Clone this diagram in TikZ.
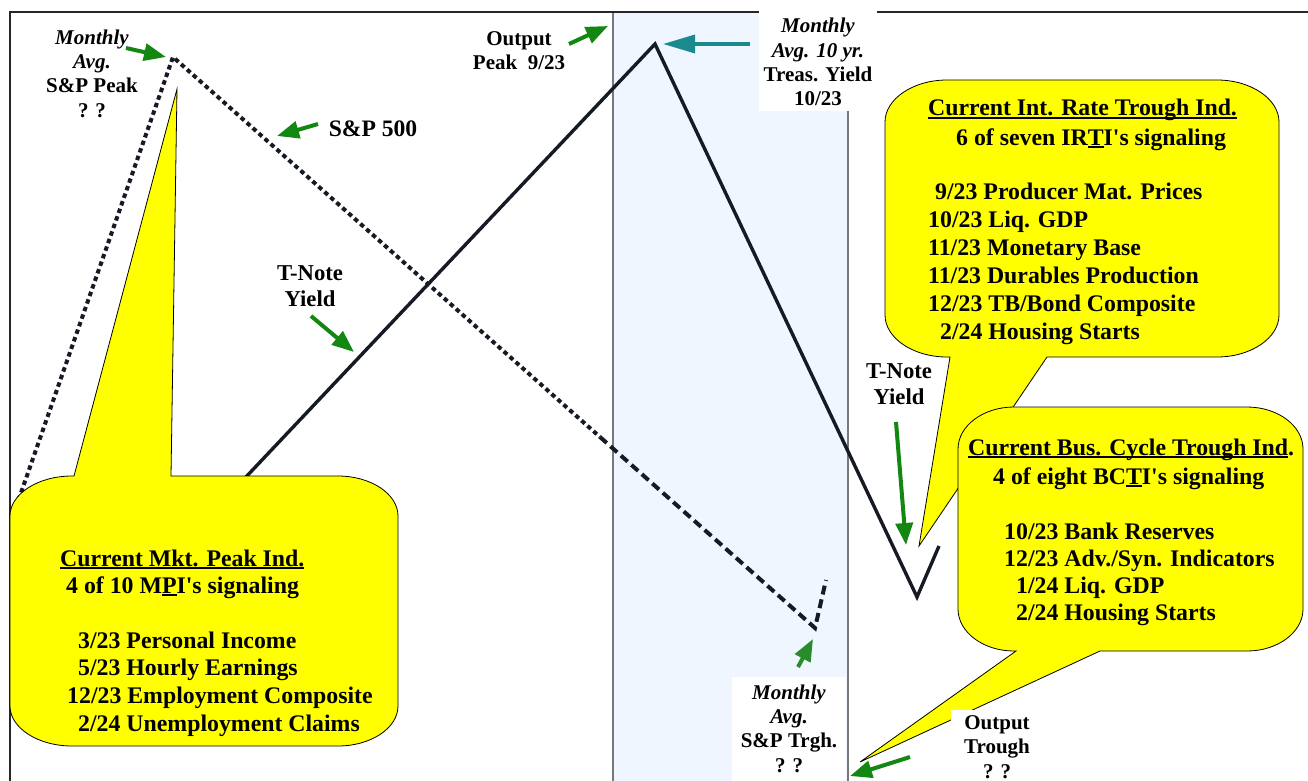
\documentclass[tikz,border=0pt]{standalone}
\usepackage{fontspec}
\setmainfont{Liberation Serif}
\usetikzlibrary{arrows.meta}
\definecolor{cyellow}{RGB}{255,255,0}
\definecolor{regionblue}{RGB}{239,246,255}
\definecolor{arrowgreen}{RGB}{18,135,18}
\definecolor{arrowgreen2}{RGB}{40,140,40}
\definecolor{arrowteal}{RGB}{26,138,142}
\definecolor{darkline}{RGB}{22,26,36}
\definecolor{regionline}{RGB}{120,120,120}
\newsavebox\ulbox
\newcommand\myul[1]{\sbox\ulbox{#1}\rlap{\rule[-2.6pt]{\wd\ulbox}{1.4pt}}\usebox\ulbox}
\begin{document}
\begin{tikzpicture}[x=1pt,y=-1pt,
  lbl/.style={align=center, inner sep=0pt, font=\fontsize{21}{24.3}\selectfont\bfseries},
  tlbl/.style={align=center, inner sep=0pt, font=\fontsize{22.7}{26}\selectfont\bfseries},
  cl/.style={anchor=base west, inner sep=0pt, font=\fontsize{23.8}{27.6}\selectfont\bfseries},
  garrow/.style={draw=arrowgreen, line width=4pt, -{Triangle[length=22pt,width=17pt]}},
  callout/.style={fill=cyellow, draw=black, line width=0.8pt},
  wbox/.style={fill=white, draw=none},
  frameline/.style={draw=black!85, line width=2pt},
  gline/.style={draw=regionline, line width=1.3pt},
  tnline/.style={draw=darkline, line width=3.4pt, line join=miter},
  spdot/.style={draw=darkline, line width=4pt, dash pattern=on 4.5pt off 3.5pt},
  spdash/.style={draw=darkline, line width=4pt, dash pattern=on 9pt off 5pt}
]
\useasboundingbox (0,0) rectangle (1308,781);
\fill[white] (0,0) rectangle (1308,781);

% shaded region
\fill[regionblue] (613,12) rectangle (848,781);
\draw[gline] (613,12) -- (613,781);
\draw[gline] (848,12) -- (848,781);

% frame
\draw[frameline] (10,781) -- (10,12) -- (1308,12);

% line vertices
\coordinate (sp0) at (18.5,500);
\coordinate (spPk) at (173,57);
\coordinate (spMid) at (600,437);
\coordinate (spTr) at (815,628);
\coordinate (spEnd) at (826,580);
\coordinate (tn0) at (245,478);
\coordinate (tnPk) at (655,44);
\coordinate (tnTr) at (917,597);
\coordinate (tnEnd) at (939,546);

% T-Note yield line
\draw[tnline] (tn0) -- (tnPk) -- (tnTr) -- (tnEnd);
% S&P 500 line
\draw[spdot] (sp0) -- (spPk) -- (spMid);
\draw[spdash] (spMid) -- (spTr) -- (spEnd);

% callout 1
\draw[callout] (72,476) -- (74,476) -- (177,89) -- (171,476) -- (338,476)
  .. controls (371,476) and (398,494) .. (398,516) -- (398,706)
  .. controls (398,728) and (371,746) .. (338,746) -- (72,746)
  .. controls (38,746) and (10,728) .. (10,706) -- (10,516)
  .. controls (10,494) and (38,476) .. (72,476) -- cycle;
% callout 2
\draw[callout] (947,80) -- (1217,80)
  .. controls (1251,80) and (1279,99) .. (1279,122) -- (1279,315)
  .. controls (1279,338) and (1251,357) .. (1217,357) -- (1047,357) -- (919,546) -- (950,357) -- (947,357)
  .. controls (913,357) and (885,338) .. (885,315) -- (885,122)
  .. controls (885,99) and (913,80) .. (947,80) -- cycle;
% callout 3
\draw[callout] (1014,407) -- (1247,407)
  .. controls (1278,407) and (1303,426) .. (1303,449) -- (1303,609)
  .. controls (1303,632) and (1278,651) .. (1247,651) -- (1100,651) -- (860,762) -- (1016,651) -- (1014,651)
  .. controls (983,651) and (958,632) .. (958,609) -- (958,449)
  .. controls (958,426) and (983,407) .. (1014,407) -- cycle;

% white label boxes
\fill[wbox] (759,8) rectangle (877,111);
\fill[wbox] (732,677) rectangle (846,781);
\fill[wbox] (951,710) rectangle (1045,781);

% callout texts
\node[cl] (c1a) at (60,566) {\myul{Current Mkt. Peak Ind.}};
\node[cl] (c1b) at (66,593) {4 of 10 M\myul{P}I\textquotesingle s signaling};
\node[cl] (c1c) at (78,648) {3/23 Personal Income};
\node[cl] (c1d) at (78,675) {5/23 Hourly Earnings};
\node[cl] (c1e) at (67,703) {12/23 Employment Composite};
\node[cl] (c1f) at (78,731) {2/24 Unemployment Claims};

\node[cl] (c2a) at (928,116) {\myul{Current Int. Rate Trough Ind.}};
\node[cl] (c2b) at (956,145) {6 of seven IR\myul{T}I\textquotesingle s signaling};
\node[cl] (c2c) at (935,199) {9/23 Producer Mat. Prices};
\node[cl] (c2d) at (928,227) {10/23 Liq. GDP};
\node[cl] (c2e) at (928,255) {11/23 Monetary Base};
\node[cl] (c2f) at (928,283) {11/23 Durables Production};
\node[cl] (c2g) at (928,311) {12/23 TB/Bond Composite};
\node[cl] (c2h) at (940,339) {2/24 Housing Starts};

\node[cl] (c3a) at (968,455) {\myul{Current Bus. Cycle Trough Ind}.};
\node[cl] (c3b) at (993,484) {4 of eight BC\myul{T}I\textquotesingle s signaling};
\node[cl] (c3c) at (1004,539) {10/23 Bank Reserves};
\node[cl] (c3d) at (1004,566) {12/23 Adv./Syn. Indicators};
\node[cl] (c3e) at (1016,593) {1/24 Liq. GDP};
\node[cl] (c3f) at (1016,620) {2/24 Housing Starts};

% labels
\node[lbl] (lPeak) at (92,73.5) {\textit{Monthly}\\\textit{Avg.}\\S\&P Peak\\? ?};
\node[inner sep=0pt, font=\fontsize{23.6}{26}\selectfont\bfseries] (lSP) at (373,129) {S\&P 500};
\node[tlbl] (lTN1) at (310,286) {T-Note\\Yield};
\node[lbl] (lOutPk) at (519,51) {Output\\Peak~~9/23};
\node[lbl] (lTreas) at (818,62) {\textit{Monthly}\\\textit{Avg. 10 yr.}\\Treas. Yield\\10/23};
\node[tlbl] (lTN2) at (899,384.5) {T-Note\\Yield};
\node[lbl] (lTrgh) at (789,728.5) {\textit{Monthly}\\\textit{Avg.}\\S\&P Trgh.\\? ?};
\node[lbl] (lOutTr) at (997,747) {Output\\Trough\\? ?};

% arrows
\coordinate (aPkS) at (126,48);   \coordinate (aPkE) at (166,57);
\coordinate (aSPS) at (318,124);  \coordinate (aSPE) at (277,136);
\coordinate (aTN1S) at (311,316); \coordinate (aTN1E) at (354,352);
\coordinate (aOPS) at (569,44);   \coordinate (aOPE) at (608,26);
\coordinate (aTrS) at (750,44);   \coordinate (aTrE) at (663,44);
\coordinate (aTN2S) at (896,422); \coordinate (aTN2E) at (906,545);
\coordinate (aSTS) at (798,667);  \coordinate (aSTE) at (813,639);
\coordinate (aOTS) at (910,757);  \coordinate (aOTE) at (850,776);

\draw[garrow] (aPkS) -- (aPkE);
\draw[garrow] (aSPS) -- (aSPE);
\draw[garrow] (aTN1S) -- (aTN1E);
\draw[garrow] (aOPS) -- (aOPE);
\draw[garrow, draw=arrowteal, line width=3.5pt, -{Triangle[length=32pt,width=18pt]}] (aTrS) -- (aTrE);
\draw[garrow] (aTN2S) -- (aTN2E);
\draw[garrow, draw=arrowgreen2] (aSTS) -- (aSTE);
\draw[garrow] (aOTS) -- (aOTE);
\end{tikzpicture}
\end{document}
